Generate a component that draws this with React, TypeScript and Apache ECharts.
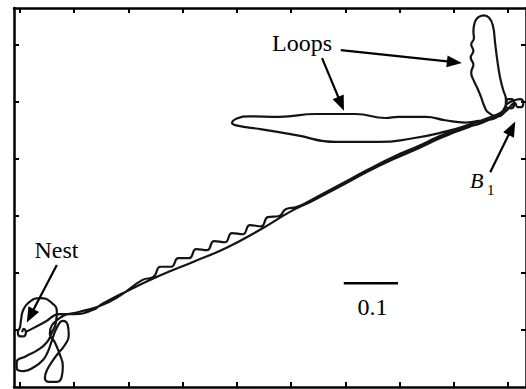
import React, { useEffect, useRef } from "react";
import * as echarts from "echarts";

// Axis ticks (data units; the scale bar is 0.1)
const xTicks = [0, 0.1, 0.2, 0.3, 0.4, 0.5, 0.6, 0.7, 0.8, 0.9];
const yTicks = [0.1, 0.2, 0.3, 0.4, 0.5, 0.6];

// Trajectory pieces
const nestPath: [number, number][] = [
  [0.004, 0.096], [0.007, 0.102], [0.011, 0.096], [0.007, 0.089], [0, 0.089], [-0.004, 0.096], [0, 0.105],
  [0.002, 0.118], [0.006, 0.135], [0.017, 0.149], [0.037, 0.156], [0.057, 0.149], [0.068, 0.132], [0.066, 0.112],
  [0.059, 0.096], [0.05, 0.079],
  [0.033, 0.065], [0.011, 0.054], [-0.006, 0.044], [-0.006, 0.033], [0.007, 0.028], [0.026, 0.035], [0.042, 0.047], [0.051, 0.061],
  [0.059, 0.082], [0.068, 0.104], [0.079, 0.116], [0.088, 0.109], [0.09, 0.091], [0.083, 0.074], [0.072, 0.061],
  [0.061, 0.047], [0.05, 0.03], [0.046, 0.016], [0.055, 0.009], [0.068, 0.009], [0.077, 0.018], [0.079, 0.037],
  [0.073, 0.058], [0.064, 0.079], [0.055, 0.093],
];

const outboundPath: [number, number][] = [
  [0.073, 0.121], [0.11, 0.132], [0.147, 0.142], [0.184, 0.16],
  [0.226, 0.188], [0.246, 0.193], [0.259, 0.211], [0.279, 0.211], [0.292, 0.226], [0.312, 0.226], [0.325, 0.242],
  [0.345, 0.24], [0.358, 0.256], [0.378, 0.254], [0.391, 0.27], [0.411, 0.268], [0.424, 0.284], [0.445, 0.282],
  [0.457, 0.298], [0.478, 0.3], [0.49, 0.312], [0.511, 0.316], [0.533, 0.326],
  [0.588, 0.354], [0.643, 0.382], [0.689, 0.404], [0.735, 0.423], [0.771, 0.439], [0.799, 0.449],
  [0.827, 0.46], [0.85, 0.467], [0.873, 0.474], [0.887, 0.481],
];

const b1Path: [number, number][] = [
  [0.895, 0.493], [0.9, 0.505], [0.907, 0.505], [0.911, 0.496], [0.906, 0.489], [0.895, 0.493], [0.904, 0.5],
  [0.915, 0.504], [0.922, 0.505], [0.928, 0.498], [0.924, 0.491], [0.917, 0.491], [0.913, 0.498], [0.896, 0.484],
  [0.882, 0.475],
];

const verticalLoop: [number, number][] = [
  [0.863, 0.482], [0.856, 0.493], [0.85, 0.509], [0.843, 0.525], [0.837, 0.537], [0.832, 0.552],
  [0.836, 0.566], [0.831, 0.578], [0.836, 0.59], [0.832, 0.601], [0.837, 0.612], [0.836, 0.624],
  [0.838, 0.638], [0.844, 0.648], [0.855, 0.652], [0.865, 0.648], [0.872, 0.634], [0.876, 0.604], [0.88, 0.574],
  [0.885, 0.544], [0.891, 0.521], [0.896, 0.504], [0.895, 0.488], [0.885, 0.477], [0.871, 0.47],
];

const horizontalLoop: [number, number][] = [
  [0.845, 0.467], [0.821, 0.464], [0.784, 0.468], [0.748, 0.474], [0.698, 0.474], [0.674, 0.472], [0.619, 0.479],
  [0.546, 0.479], [0.478, 0.474], [0.422, 0.475], [0.4, 0.471], [0.391, 0.463], [0.399, 0.459], [0.446, 0.452],
  [0.509, 0.442], [0.582, 0.43], [0.661, 0.43], [0.722, 0.436], [0.784, 0.448], [0.827, 0.46], [0.863, 0.472],
  [0.882, 0.479], [0.887, 0.482],
];

const returnPath: [number, number][] = [
  [0.876, 0.474], [0.85, 0.463], [0.827, 0.456], [0.799, 0.446], [0.771, 0.435], [0.735, 0.419], [0.689, 0.4],
  [0.643, 0.379], [0.588, 0.351], [0.538, 0.326], [0.501, 0.309], [0.441, 0.275], [0.38, 0.244], [0.318, 0.219],
  [0.257, 0.195], [0.197, 0.168], [0.152, 0.146], [0.134, 0.135], [0.101, 0.128], [0.073, 0.128], [0.046, 0.114],
  [0.022, 0.102], [0.009, 0.096],
];

const scaleBar: [number, number][] = [[0.597, 0.182], [0.697, 0.182]];

// Annotation arrows: [start, end] in data units
const arrows: [number, number][][] = [
  [[0.5915, 0.591], [0.801, 0.57]],
  [[0.557, 0.577], [0.592, 0.497]],
  [[0.068, 0.214], [0.019, 0.125]],
  [[0.867, 0.377], [0.907, 0.454]],
];

const X_MIN = -0.011;
const X_MAX = 0.933;
const Y_MIN = 0;
const Y_MAX = 0.665;

const SERIF = "Liberation Serif, Times New Roman, serif";

function axis(min: number, max: number, ticks: number[], position: string) {
  return {
    type: "value",
    min,
    max,
    position,
    axisLine: { show: true, onZero: false, lineStyle: { color: "#000", width: 2.5 } },
    axisTick: { show: true, inside: true, length: 5, customValues: ticks, lineStyle: { color: "#000", width: 2 } },
    axisLabel: { show: false },
    splitLine: { show: false },
  };
}

export default function App() {
  const ref = useRef<HTMLDivElement>(null);
  useEffect(() => {
    document.body.style.margin = "0";
    const chart = echarts.init(ref.current!, null, { renderer: "svg" });
    const trajectory = [...nestPath, ...outboundPath, ...b1Path, ...verticalLoop, ...horizontalLoop, ...returnPath];
    const txt = (text: string, x: number, y: number, size: number, extra: any = {}) => ({
      type: "text",
      x,
      y,
      style: { text, fontSize: size, fontFamily: SERIF, fill: "#000", align: "center", verticalAlign: "middle", ...extra },
    });
    chart.setOption({
      animation: false,
      backgroundColor: "#fff",
      grid: { left: 14, top: 8, width: 514, height: 379 },
      xAxis: [axis(X_MIN, X_MAX, xTicks, "bottom"), axis(X_MIN, X_MAX, xTicks, "top")],
      yAxis: [axis(Y_MIN, Y_MAX, yTicks, "left"), axis(Y_MIN, Y_MAX, yTicks, "right")],
      series: [
        {
          type: "line",
          data: trajectory,
          showSymbol: false,
          smooth: 0.5,
          lineStyle: { color: "#141414", width: 2.2 },
          silent: true,
        },
        {
          type: "line",
          data: scaleBar,
          showSymbol: false,
          lineStyle: { color: "#000", width: 2.5 },
          silent: true,
          markLine: {
            silent: true,
            symbol: ["none", "triangle"],
            symbolSize: [12, 15],
            label: { show: false },
            lineStyle: { color: "#000", width: 2.2, type: "solid" },
            data: arrows.map(([a, b]) => [{ coord: a }, { coord: b }]),
          },
        },
      ],
      graphic: [
        txt("Loops", 302, 43, 24),
        txt("Nest", 56.5, 250, 24),
        txt("0.1", 372.5, 307, 24),
        txt("B", 470, 180.6, 22, { fontStyle: "italic", align: "left" }),
        txt("1", 487, 190, 15, { align: "left" }),
      ],
    });
    return () => chart.dispose();
  }, []);
  return (
    <div
      ref={ref}
      style={{ position: "absolute", left: 0, top: 0, width: 526, height: 389, background: "#fff" }}
    />
  );
}
